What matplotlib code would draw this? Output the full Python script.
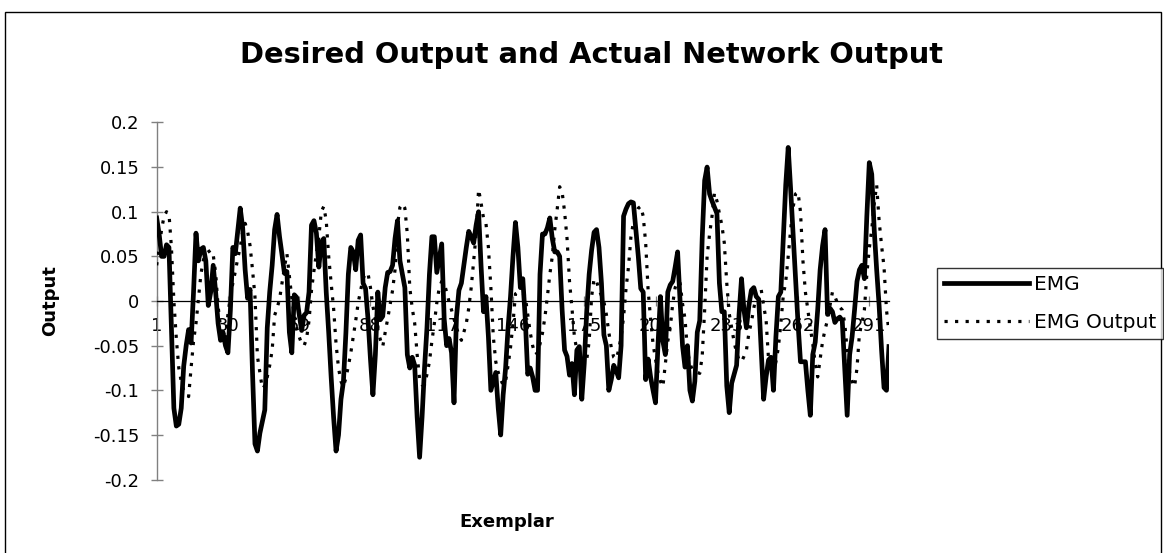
import matplotlib.pyplot as plt
import matplotlib.patches as patches

plt.rcParams["font.family"] = ["DejaVu Sans"]
plt.rcParams["axes.unicode_minus"] = False

emg = [0.093, 0.075, 0.050, 0.050, 0.063, 0.060, -0.030, -0.120, -0.140, -0.138,
       -0.120, -0.073, -0.050, -0.032, -0.047, 0.010, 0.076, 0.045, 0.058, 0.060,
       0.045, -0.005, 0.010, 0.040, 0.010, -0.025, -0.044, -0.035, -0.050, -0.058,
       -0.010, 0.060, 0.053, 0.078, 0.104, 0.082, 0.035, 0.003, 0.013, -0.080,
       -0.160, -0.168, -0.148, -0.135, -0.122, -0.030, 0.010, 0.040, 0.080, 0.097,
       0.072, 0.052, 0.031, 0.033, -0.035, -0.058, 0.007, 0.004, -0.015, -0.033,
       -0.016, -0.013, 0.010, 0.085, 0.090, 0.076, 0.038, 0.066, 0.070, 0.010,
       -0.035, -0.085, -0.130, -0.168, -0.150, -0.110, -0.090, -0.036, 0.030, 0.060,
       0.055, 0.035, 0.068, 0.074, 0.020, 0.014, -0.020, -0.065, -0.105, -0.060,
       0.010, -0.021, -0.017, 0.015, 0.032, 0.033, 0.040, 0.070, 0.090, 0.045,
       0.030, 0.015, -0.060, -0.075, -0.063, -0.072, -0.130, -0.175, -0.130, -0.075,
       -0.030, 0.030, 0.072, 0.072, 0.032, 0.048, 0.064, -0.020, -0.050, -0.042,
       -0.058, -0.114, -0.018, 0.012, 0.020, 0.040, 0.060, 0.078, 0.072, 0.065,
       0.085, 0.100, 0.040, -0.012, 0.005, -0.040, -0.100, -0.090, -0.080, -0.120,
       -0.150, -0.105, -0.075, -0.030, 0.005, 0.050, 0.088, 0.060, 0.015, 0.025,
       -0.020, -0.082, -0.075, -0.085, -0.100, -0.100, 0.030, 0.075, 0.075, 0.082,
       0.093, 0.070, 0.055, 0.055, 0.050, -0.010, -0.055, -0.062, -0.083, -0.070,
       -0.105, -0.055, -0.051, -0.110, -0.070, -0.012, 0.030, 0.057, 0.077, 0.080,
       0.060, 0.020, -0.038, -0.050, -0.100, -0.088, -0.072, -0.078, -0.086, -0.050,
       0.095, 0.103, 0.109, 0.111, 0.110, 0.080, 0.050, 0.014, 0.010, -0.088,
       -0.065, -0.085, -0.100, -0.114, -0.050, 0.005, -0.045, -0.060, 0.010, 0.018,
       0.022, 0.038, 0.055, 0.000, -0.050, -0.074, -0.050, -0.100, -0.112, -0.090,
       -0.035, -0.022, 0.070, 0.135, 0.150, 0.120, 0.112, 0.105, 0.098, 0.020,
       -0.012, -0.012, -0.095, -0.125, -0.092, -0.082, -0.072, -0.015, 0.025, -0.010,
       -0.030, -0.005, 0.012, 0.015, 0.005, 0.002, -0.055, -0.110, -0.085, -0.066,
       -0.063, -0.100, -0.040, 0.005, 0.010, 0.070, 0.130, 0.172, 0.125, 0.075,
       0.025, -0.025, -0.068, -0.068, -0.068, -0.100, -0.128, -0.060, -0.046, -0.010,
       0.035, 0.062, 0.080, -0.015, -0.008, -0.012, -0.024, -0.020, -0.018, -0.022,
       -0.075, -0.128, -0.060, -0.040, -0.010, 0.022, 0.035, 0.040, 0.025, 0.095,
       0.155, 0.142, 0.080, 0.035, -0.005, -0.055, -0.097, -0.100, -0.051]

emg_output = [0.040, 0.060, 0.080, 0.095, 0.100, 0.098, 0.060, 0.000, -0.042, -0.075,
              -0.090, -0.100, -0.104, -0.107, -0.075, -0.045, -0.025, 0.002, 0.030, 0.046,
              0.053, 0.055, 0.057, 0.052, 0.031, -0.006, -0.030, -0.042, -0.040, -0.015,
              0.005, 0.020, 0.033, 0.048, 0.060, 0.078, 0.087, 0.078, 0.062, 0.035,
              0.005, -0.062, -0.080, -0.098, -0.095, -0.085, -0.072, -0.055, -0.016, -0.008,
              0.002, 0.020, 0.038, 0.053, 0.028, 0.003, -0.015, -0.030, -0.040, -0.048,
              -0.050, -0.042, -0.022, 0.012, 0.034, 0.053, 0.072, 0.100, 0.106, 0.090,
              0.050, 0.020, -0.008, -0.048, -0.075, -0.090, -0.096, -0.086, -0.073, -0.058,
              -0.040, -0.022, -0.002, 0.012, 0.025, 0.031, 0.031, 0.015, -0.006, -0.020,
              -0.032, -0.043, -0.051, -0.035, -0.020, -0.004, 0.012, 0.035, 0.085, 0.105,
              0.109, 0.104, 0.075, 0.015, -0.008, -0.025, -0.060, -0.088, -0.094, -0.094,
              -0.082, -0.068, -0.045, -0.025, -0.002, 0.015, 0.022, 0.020, 0.010, -0.001,
              -0.010, -0.020, -0.030, -0.038, -0.044, -0.035, -0.025, -0.008, 0.015, 0.045,
              0.075, 0.125, 0.110, 0.093, 0.087, 0.060, 0.015, -0.040, -0.068, -0.080,
              -0.088, -0.094, -0.090, -0.072, -0.052, -0.025, 0.008, 0.010, 0.010, 0.009,
              0.005, -0.015, -0.035, -0.050, -0.060, -0.058, -0.048, -0.036, -0.018, 0.005,
              0.030, 0.050, 0.080, 0.103, 0.128, 0.122, 0.100, 0.070, 0.022, -0.008,
              -0.040, -0.055, -0.065, -0.070, -0.070, -0.066, -0.045, 0.005, 0.025, 0.022,
              0.013, 0.006, -0.001, -0.015, -0.035, -0.052, -0.063, -0.065, -0.055, -0.040,
              -0.018, 0.014, 0.038, 0.072, 0.088, 0.098, 0.104, 0.106, 0.095, 0.065,
              0.012, -0.020, -0.048, -0.065, -0.080, -0.090, -0.096, -0.070, -0.045, -0.030,
              -0.003, 0.015, 0.022, 0.020, -0.003, -0.020, -0.055, -0.070, -0.077, -0.079,
              -0.080, -0.081, -0.062, -0.010, 0.050, 0.075, 0.095, 0.121, 0.112, 0.098,
              0.085, 0.065, 0.020, -0.014, -0.030, -0.046, -0.058, -0.066, -0.068, -0.062,
              -0.055, -0.036, -0.024, -0.008, 0.006, 0.011, 0.013, -0.005, -0.021, -0.065,
              -0.080, -0.080, -0.068, -0.052, -0.025, 0.006, 0.022, 0.050, 0.080, 0.105,
              0.120, 0.122, 0.100, 0.045, 0.010, -0.010, -0.030, -0.048, -0.070, -0.085,
              -0.065, -0.045, -0.032, -0.021, -0.005, 0.010, 0.005, -0.002, -0.007, -0.010,
              -0.025, -0.055, -0.080, -0.090, -0.096, -0.075, -0.036, -0.025, -0.010, 0.030,
              0.059, 0.080, 0.109, 0.130, 0.090, 0.062, 0.038, -0.010, -0.035]

exemplar = list(range(1, len(emg) + 1))
x_ticks = [1, 30, 59, 88, 117, 146, 175, 204, 233, 262, 291]
y_ticks = [-0.2, -0.15, -0.1, -0.05, 0, 0.05, 0.1, 0.15, 0.2]
y_labels = ["-0.2", "-0.15", "-0.1", "-0.05", "0", "0.05", "0.1", "0.15", "0.2"]

fig = plt.figure(figsize=(11.64, 5.53), dpi=100)
ax = fig.add_axes([0.1346, 0.1327, 0.6291, 0.6459])

ax.plot(exemplar, emg, color="black", linewidth=3.4, solid_joinstyle="round",
        label="EMG", zorder=4)
ax.plot(exemplar, emg_output, color="black", linewidth=2.3, linestyle=(0, (1, 2.3)),
        dash_capstyle="butt", label="EMG Output", zorder=3)

ax.set_xlim(1, len(emg))
ax.set_ylim(-0.2, 0.2)
ax.set_facecolor("none")

ax.spines["top"].set_visible(False)
ax.spines["right"].set_visible(False)
ax.spines["bottom"].set_position(("data", 0))
ax.spines["bottom"].set_linewidth(0.9)
ax.spines["left"].set_color("#808080")
ax.spines["left"].set_linewidth(1.0)
ax.set_axisbelow(True)

ax.set_xticks(x_ticks)
ax.set_xticklabels([str(t) for t in x_ticks])
ax.set_yticks(y_ticks)
ax.set_yticklabels(y_labels)
ax.tick_params(axis="y", direction="inout", length=9, width=1.0, color="#808080",
               labelsize=13, pad=8)
ax.tick_params(axis="x", direction="inout", length=7, width=0.9, color="#808080",
               labelsize=13, pad=8)

ax.set_ylabel("Output", fontsize=13, fontweight="bold", labelpad=24)
fig.text(507 / 1164, 1 - 527 / 553, "Exemplar", fontsize=13, fontweight="bold",
         ha="center", va="baseline")
fig.text(591 / 1164, 1 - 63 / 553, "Desired Output and Actual Network Output",
         fontsize=20.8, fontweight="bold", ha="center", va="baseline")

leg = fig.legend(loc="upper left", bbox_to_anchor=(937 / 1164, 1 - 268 / 553),
                 fontsize=14.5, frameon=True, fancybox=False, shadow=False,
                 borderpad=0.35, labelspacing=0.95, handlelength=4.2,
                 handletextpad=0.25, borderaxespad=0)
leg.get_frame().set_edgecolor("black")
leg.get_frame().set_linewidth(1.0)

fig.patches.append(patches.Rectangle((5 / 1164, -0.05), 1156 / 1164, 1.05 - 12 / 553,
                                     transform=fig.transFigure, fill=False,
                                     edgecolor="black", linewidth=1.0))

fig.savefig("out.png", dpi=100)
